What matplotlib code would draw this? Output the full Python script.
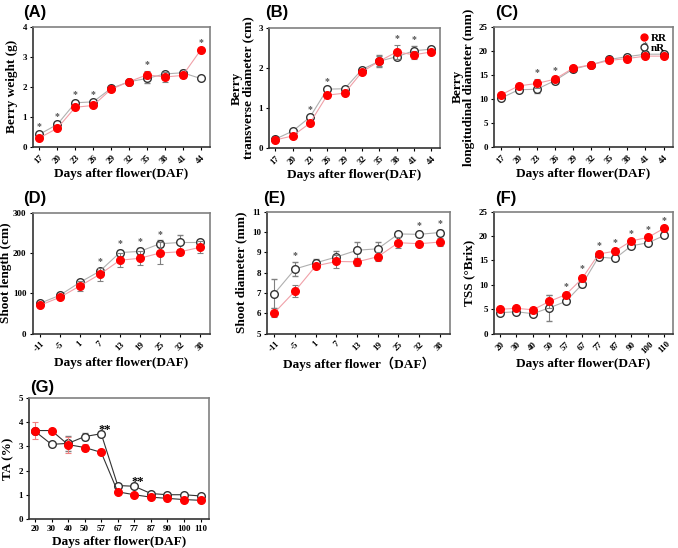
import matplotlib
matplotlib.use('Agg')
import matplotlib.pyplot as plt
from matplotlib.lines import Line2D

plt.rcParams['font.family'] = ['Liberation Serif', 'Noto Sans CJK SC']
plt.rcParams['font.weight'] = 'bold'

# A - berry weight
days_a = ['17', '20', '23', '26', '29', '32', '35', '38', '41', '44']
weight_rr = [0.30, 0.62, 1.32, 1.38, 1.92, 2.17, 2.40, 2.33, 2.38, 3.22]
weight_nr = [0.42, 0.75, 1.47, 1.50, 1.95, 2.17, 2.28, 2.43, 2.47, 2.28]
weight_rr_err = [0.04, 0.05, 0.05, 0.06, 0.04, 0.04, 0.12, 0.18, 0.07, 0.04]
weight_nr_err = [0.04, 0.05, 0.05, 0.05, 0.04, 0.04, 0.15, 0.06, 0.10, 0.03]
weight_star = [0, 1, 2, 3, 6, 9]

# B - transverse diameter
trans_rr = [0.20, 0.30, 0.62, 1.32, 1.37, 1.90, 2.17, 2.40, 2.33, 2.40]
trans_nr = [0.22, 0.42, 0.77, 1.47, 1.48, 1.96, 2.17, 2.28, 2.43, 2.47]
trans_rr_err = [0.02, 0.03, 0.04, 0.05, 0.04, 0.05, 0.13, 0.17, 0.10, 0.05]
trans_nr_err = [0.02, 0.03, 0.04, 0.04, 0.04, 0.04, 0.15, 0.03, 0.12, 0.04]
trans_star = [2, 3, 7, 8]

# C - longitudinal diameter
long_rr = [10.8, 12.7, 13.2, 14.1, 16.4, 17.1, 18.0, 18.4, 18.9, 18.9]
long_nr = [10.1, 11.9, 12.0, 13.8, 16.2, 17.1, 18.2, 18.8, 19.3, 19.3]
long_rr_err = [0.3, 0.3, 1.0, 0.5, 0.3, 0.3, 0.3, 0.3, 0.3, 0.3]
long_nr_err = [0.3, 0.3, 0.8, 0.4, 0.3, 0.3, 0.3, 0.3, 0.4, 0.3]
long_star = [2, 3, 8]

# D - shoot length
days_d = ['-11', '-5', '1', '7', '13', '19', '25', '32', '38']
shoot_rr = [70, 90, 118, 147, 182, 187, 200, 203, 214]
shoot_nr = [75, 95, 127, 155, 201, 204, 223, 226, 226]
shoot_rr_err = [5, 5, 12, 17, 17, 17, 27, 8, 15]
shoot_nr_err = [4, 4, 6, 6, 6, 8, 8, 18, 5]
shoot_star = [3, 4, 5, 6]

# E - shoot diameter
diam_rr = [6.03, 7.10, 8.33, 8.55, 8.53, 8.78, 9.47, 9.42, 9.50]
diam_nr = [6.97, 8.18, 8.48, 8.77, 9.10, 9.17, 9.90, 9.88, 9.97]
diam_rr_err = [0.22, 0.30, 0.10, 0.30, 0.20, 0.22, 0.28, 0.05, 0.20]
diam_nr_err = [0.70, 0.35, 0.20, 0.30, 0.40, 0.35, 0.10, 0.10, 0.12]
diam_star = [1, 7, 8]

# F - TSS
days_f = ['20', '30', '40', '50', '57', '67', '77', '87', '90', '100', '110']
tss_rr = [5.0, 5.2, 4.9, 6.6, 8.0, 11.3, 16.3, 16.9, 19.0, 19.7, 21.6]
tss_nr = [4.3, 4.5, 4.1, 5.3, 6.6, 10.1, 15.7, 15.4, 18.0, 18.6, 20.1]
tss_rr_err = [0.3, 0.3, 0.3, 1.4, 0.4, 0.8, 0.4, 0.4, 0.3, 0.3, 0.3]
tss_nr_err = [0.2, 0.3, 0.2, 2.6, 0.3, 0.5, 0.3, 0.3, 0.3, 0.3, 0.3]
tss_star = [4, 5, 6, 7, 8, 9, 10]

# G - TA
ta_rr = [3.65, 3.65, 3.07, 2.95, 2.75, 1.12, 1.00, 0.90, 0.85, 0.80, 0.77]
ta_nr = [3.62, 3.08, 3.12, 3.40, 3.52, 1.38, 1.35, 1.05, 1.00, 1.00, 0.95]
ta_rr_err = [0.35, 0.03, 0.33, 0.15, 0.04, 0.05, 0.03, 0.03, 0.03, 0.03, 0.03]
ta_nr_err = [0.05, 0.05, 0.30, 0.15, 0.10, 0.05, 0.08, 0.03, 0.03, 0.03, 0.03]
ta_star = [4, 6]

RED = '#ff0000'
GRAY = '#808080'


def panel(pos, letter, letter_xy, days, rr, nr, rr_err, nr_err, ylim, yticks,
          ylabel, stars, xlabel='Days after flower(DAF)', rotate=True,
          dark=False, rr_ecolor=None, ylabelpad=3):
    ax = fig.add_axes(pos)
    x = list(range(len(days)))
    rr_line = '#333333' if dark else '#f0a0a8'
    nr_line = '#333333' if dark else '#b0b0b0'
    ax.errorbar(x, nr, yerr=nr_err, color=nr_line, lw=0.8, marker='o', ms=5.5,
                mfc='white', mec='#333333', mew=1.0, ecolor=GRAY,
                elinewidth=0.8, capsize=2.5, capthick=0.8, zorder=3)
    ax.errorbar(x, rr, yerr=rr_err, color=rr_line, lw=0.8, marker='o', ms=5.5,
                mfc=RED, mec=RED, ecolor=rr_ecolor or GRAY,
                elinewidth=0.8, capsize=2.5, capthick=0.8, zorder=4)
    span = ylim[1] - ylim[0]
    for i in stars:
        if dark:
            ax.text(i + 0.2, nr[i] - span * 0.015, '**', ha='center',
                    va='bottom', fontsize=9, color='black', zorder=5)
        else:
            top = max(rr[i] + rr_err[i], nr[i] + nr_err[i])
            ax.text(i, top + span * 0.015, '*', ha='center', va='bottom',
                    fontsize=7, color='#555555')
    ax.set_xlim(-0.35, len(days) - 0.5)
    ax.set_ylim(*ylim)
    ax.set_yticks(yticks)
    ax.set_xticks(x)
    if rotate:
        ax.set_xticklabels(days, rotation=45, ha='center')
    else:
        ax.set_xticklabels(days)
    ax.tick_params(labelsize=6.5, length=2.5, width=0.8, colors='black', pad=2)
    for s in ax.spines.values():
        s.set_color(GRAY)
        s.set_linewidth(1.2)
    ax.spines['bottom'].set_color('#333333')
    ax.spines['left'].set_color('#333333')
    ax.set_ylabel(ylabel, fontsize=9.5, fontweight='bold', labelpad=ylabelpad,
                  linespacing=0.95)
    ax.set_xlabel(xlabel, fontsize=9.5, fontweight='bold', labelpad=2)
    fig.text(letter_xy[0], letter_xy[1], '(' + letter + ')', fontsize=12,
             fontweight='bold', family='Liberation Sans', va='center')
    return ax


fig = plt.figure(figsize=(6.78, 5.48), dpi=100)

panel([0.049, 0.732, 0.260, 0.219], 'A', (0.034, 0.978), days_a, weight_rr,
      weight_nr, weight_rr_err, weight_nr_err, (0, 4), [0, 1, 2, 3, 4],
      'Berry weight (g)', weight_star)
panel([0.397, 0.730, 0.252, 0.219], 'B', (0.391, 0.978), days_a, trans_rr,
      trans_nr, trans_rr_err, trans_nr_err, (0, 3), [0, 1, 2, 3],
      'Berry\ntransverse diameter (cm)', trans_star)
axc = panel([0.729, 0.732, 0.263, 0.219], 'C', (0.730, 0.978), days_a,
            long_rr, long_nr, long_rr_err, long_nr_err, (0, 25),
            [0, 5, 10, 15, 20, 25], 'Berry\nlongitudinal diameter (mm)',
            long_star)
handles = [Line2D([], [], ls='', marker='o', ms=5, mfc=RED, mec=RED),
           Line2D([], [], ls='', marker='o', ms=5, mfc='white', mec='#333333')]
axc.legend(handles, ['RR', 'nR'], loc='upper right', frameon=False,
           handletextpad=0.1, labelspacing=0.05, borderaxespad=0.15,
           handlelength=1.0, prop={'family': 'Liberation Serif', 'size': 8})
panel([0.048, 0.391, 0.262, 0.221], 'D', (0.034, 0.638), days_d, shoot_rr,
      shoot_nr, shoot_rr_err, shoot_nr_err, (0, 300), [0, 100, 200, 300],
      'Shoot length (cm)', shoot_star, ylabelpad=0.5)
panel([0.394, 0.391, 0.270, 0.223], 'E', (0.388, 0.638), days_d, diam_rr,
      diam_nr, diam_rr_err, diam_nr_err, (5, 11), [5, 6, 7, 8, 9, 10, 11],
      'Shoot diameter (mm)', diam_star, xlabel='Days after flower（DAF）')
panel([0.729, 0.391, 0.263, 0.223], 'F', (0.730, 0.638), days_f, tss_rr,
      tss_nr, tss_rr_err, tss_nr_err, (0, 25), [0, 5, 10, 15, 20, 25],
      'TSS (°Brix)', tss_star)
panel([0.043, 0.053, 0.265, 0.221], 'G', (0.044, 0.292), days_f, ta_rr,
      ta_nr, ta_rr_err, ta_nr_err, (0, 5), [0, 1, 2, 3, 4, 5], 'TA (%)',
      ta_star, rotate=False, dark=True, rr_ecolor='#f08080')

fig.savefig('out.png', dpi=100)
